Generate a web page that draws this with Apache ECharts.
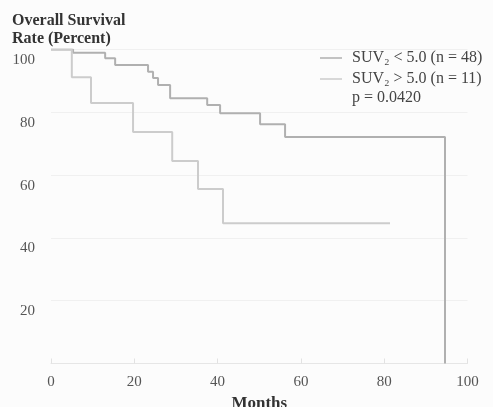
<!DOCTYPE html>
<html lang="en">
<head>
    <meta charset="UTF-8">
    <style>
    html,
    body {
        height: 100%;
        margin: 0;
        background: #fcfcfc;
    }
  </style>
</head>
<body>
<div id="chart" style="width:493px;height:407px;"></div>
<script src="https://cdn.jsdelivr.net/npm/echarts@6/dist/echarts.min.js"></script>
<script>
    // Kaplan-Meier steps (months, percent surviving)
    var monthsLow = [0, 5.3, 13.0, 15.4, 23.3, 24.5, 25.7, 28.6, 37.5, 40.6, 50.2, 56.2, 94.6];
    var survivalLow = [100, 99.0, 97.2, 95.1, 92.9, 90.9, 88.7, 84.5, 82.3, 79.7, 76.2, 72.1, 0];
    var monthsHigh = [0, 5.0, 9.6, 19.7, 29.1, 35.3, 41.3, 81.4];
    var survivalHigh = [100, 91.2, 83.0, 73.7, 64.5, 55.6, 44.7, 44.7];
    var seriesNames = ['SUV₂ < 5.0 (n = 48)', 'SUV₂ > 5.0 (n = 11)'];
    var pText = 'p = 0.0420';

    function pairs(xs, ys) {
        var out = [];
        for (var i = 0; i < xs.length; i++) {
            out.push([xs[i], ys[i]]);
        }
        return out;
    }

    var serif = 'Liberation Serif';
    var myChart = echarts.init(document.getElementById('chart'));
    myChart.setOption({
        backgroundColor: '#fcfcfc',
        animation: false,
        title: {
            text: 'Overall Survival\nRate (Percent)',
            left: 7,
            top: 7,
            textStyle: {
                fontFamily: serif,
                fontWeight: 'bold',
                fontSize: 16,
                lineHeight: 18,
                color: '#333'
            }
        },
        legend: {
            orient: 'vertical',
            left: 315,
            top: 44,
            icon: 'rect',
            itemWidth: 22,
            itemHeight: 1.5,
            itemGap: 3,
            textStyle: {
                fontFamily: serif,
                fontSize: 16,
                lineHeight: 18,
                color: '#444',
                padding: [0, 0, 0, 5]
            },
            data: seriesNames
        },
        graphic: [{
            type: 'text',
            left: 352,
            top: 90,
            style: {
                text: pText,
                font: '16px "Liberation Serif"',
                fill: '#444'
            }
        }],
        grid: {
            left: 51,
            right: 25.5,
            top: 49.5,
            bottom: 43.5,
            outerBoundsMode: 'none'
        },
        xAxis: {
            type: 'value',
            min: 0,
            max: 100,
            interval: 20,
            name: 'Months',
            nameLocation: 'middle',
            nameGap: 32,
            nameTextStyle: {
                fontFamily: serif,
                fontWeight: 'bold',
                fontSize: 17,
                color: '#333'
            },
            axisLine: { lineStyle: { color: '#e6e6e6' } },
            axisTick: { inside: true, length: 5, lineStyle: { color: '#e2e2e2' } },
            axisLabel: {
                margin: 11,
                fontFamily: serif,
                fontSize: 15,
                color: '#555'
            },
            splitLine: { show: false }
        },
        yAxis: {
            type: 'value',
            min: 0,
            max: 100,
            interval: 20,
            axisLine: { show: false },
            axisTick: { show: false },
            axisLabel: {
                margin: 16,
                verticalAlign: 'top',
                padding: [3, 0, 0, 0],
                fontFamily: serif,
                fontSize: 15,
                color: '#555',
                formatter: function (v) { return v === 0 ? '' : v; }
            },
            splitLine: { lineStyle: { color: '#f0f0f0' } }
        },
        series: [
            {
                name: seriesNames[0],
                type: 'line',
                step: 'end',
                symbol: 'none',
                lineStyle: { color: '#b0b0b0', width: 2 },
                itemStyle: { color: '#b0b0b0' },
                data: pairs(monthsLow, survivalLow)
            },
            {
                name: seriesNames[1],
                type: 'line',
                step: 'end',
                symbol: 'none',
                lineStyle: { color: '#cccccc', width: 2 },
                itemStyle: { color: '#cccccc' },
                data: pairs(monthsHigh, survivalHigh)
            }
        ]
    });
</script>
</body>
</html>
